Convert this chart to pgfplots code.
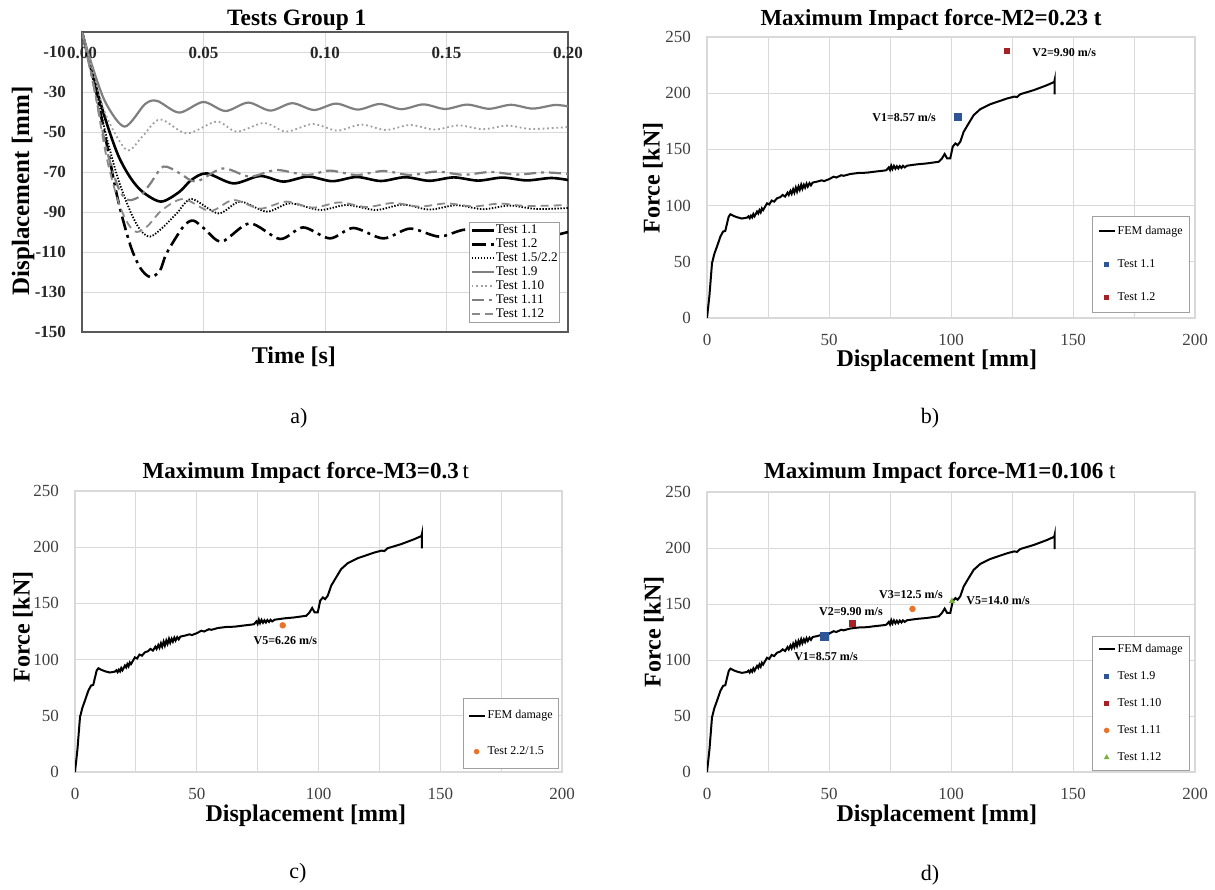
\documentclass[border=0pt]{standalone}
\usepackage{fontspec}
\setmainfont{Liberation Serif}
\usepackage{pgfplots}
\pgfplotsset{compat=1.18}

\definecolor{gridc}{HTML}{D9D9D9}
\definecolor{tickc}{HTML}{404040}
\definecolor{tblue}{HTML}{2E5597}
\definecolor{tred}{HTML}{A52126}
\definecolor{torange}{HTML}{E8732A}
\definecolor{tgreen}{HTML}{7AAE3A}
\definecolor{g1}{HTML}{7F7F7F}
\definecolor{g2}{HTML}{A0A0A0}
\definecolor{g3}{HTML}{8A8A8A}

\pgfplotstableread{
d f
0 0
1 20
2.05 48.8
3 57
4.1 63.6
5.5 72.5
6.6 76.9
7.5 77.5
8.2 84
8.9 90.2
9.6 92.3
10.9 90.8
12.5 89.5
14.3 88.5
16.4 89.3
17 90.5
17.5 88.8
18 91
18.5 89.5
19 92.5
19.5 90.5
20.5 94.7
21 93
21.5 96
22 94
22.5 97.5
23 96
24.6 102
25.5 101
26.5 104.5
27.5 103.5
28.7 106.5
30 107.5
31 109.5
32 108
33 111.5
33.5 109.5
34.2 113
34.7 110.5
35.3 114.5
35.8 111.5
36.4 116
36.9 112.5
37.5 117
38 114
38.6 118.5
39.1 115
39.7 118.5
40.2 116
40.8 119.5
41.3 117
42 120
42.6 118
43.3 120.5
45.1 121.3
47 122.5
48 121.8
50 123.5
51.9 125.7
53 125
55 127
56 126.5
58.7 128.1
62 129
65.6 129.3
68 130
70 130.5
72.4 131.1
73.5 131.5
74.5 134
75 131.8
75.5 135.5
76 132.5
76.6 135.3
77.2 132.8
77.8 135
78.4 133
79 135.2
79.7 133.5
80.3 135.4
81 134
82 135.5
86 136.7
90 137.5
95 139
96.3 142
97.4 145.9
98.4 142
99.7 142
100.7 152.4
101.8 155.3
102.7 153.8
103.8 156.8
105.2 165.7
107.2 173
109.3 180.5
112 185.8
116.1 190.2
123 195.3
126 197
127 196.5
128.4 199.1
133.9 202.7
139.3 207.1
142.3 210
142.5 212
142.5 199
}\femdata

\tikzset{annot/.style={font=\bfseries\fontsize{6}{7}\selectfont}}

\pgfplotsset{
  every axis title shift=0pt,
  forcebase/.style={
    scale only axis, width=244pt, height=140.5pt,
    xmin=0, xmax=200, ymin=0, ymax=250,
    xtick={0,50,100,150,200}, ytick={0,50,100,150,200,250},
    minor xtick={25,75,125,175},
    xmajorgrids, ymajorgrids, xminorgrids,
    major grid style={draw=gridc, line width=0.4pt},
    minor grid style={draw=gridc, line width=0.4pt},
    axis line style={draw=gridc, line width=0.6pt},
    major tick length=0pt, minor tick length=0pt,
    /pgf/number format/assume math mode=true,
    tick label style={font=\fontsize{8.5}{10}\selectfont, text=tickc},
    xticklabel style={anchor=center, yshift=-11pt},
    yticklabel style={anchor=east, xshift=-4.5pt},
    title style={font=\bfseries\fontsize{11.5}{13}\selectfont, anchor=center},
    xlabel style={font=\bfseries\fontsize{12}{14}\selectfont, anchor=center},
    ylabel style={font=\bfseries\fontsize{12}{14}\selectfont, anchor=center},
    legend cell align=left,
    legend image code/.code={\draw[##1] (0pt,0pt) -- (8pt,0pt);},
    legend style={draw=g2, fill=white, line width=0.5pt,
      font=\fontsize{6}{7}\selectfont, anchor=north east,
      nodes={inner sep=1pt, text height=4.5pt, text depth=1.5pt}},
  },
  femline/.style={black, line width=1pt},
  mkleg/.style={legend image code/.code={\draw[##1, mark size=1.1pt] plot coordinates {(4pt,0pt)};}},
}

\begin{document}
\begin{tikzpicture}
\useasboundingbox (0pt,0pt) rectangle (607.5pt,444.5pt);

%%%%%%%%%%%%%%%% a)
\begin{axis}[
  at={(41pt,278.5pt)}, anchor=south west,
  scale only axis, width=243pt, height=150pt,
  xmin=0, xmax=0.2, ymin=-150, ymax=0,
  xtick={0,0.05,0.1,0.15,0.2}, xticklabels={0.00,0.05,0.10,0.15,0.20},
  ytick={-150,-130,-110,-90,-70,-50,-30,-10},
  yticklabels={-150,-130,-110,-90,-70,-50,-30,-10},
  xticklabel pos=upper,
  xmajorgrids, ymajorgrids,
  major grid style={draw=gridc, line width=0.4pt},
  axis line style={draw=black!65, line width=1pt},
  major tick length=0pt,
  tick label style={font=\bfseries\fontsize{8.5}{10}\selectfont, text=black!85},
  xticklabel style={anchor=center, yshift=-10.5pt},
  yticklabel style={anchor=east, xshift=-4.5pt},
  title={Tests Group 1},
  title style={font=\bfseries\fontsize{11.7}{13}\selectfont, at={(0.442,1.04)}, anchor=center},
  xlabel={Time [s]},
  xlabel style={font=\bfseries\fontsize{12}{14}\selectfont, at={(axis description cs:0.436,-0.083)}, anchor=center},
  ylabel={Displacement [mm]},
  ylabel style={font=\bfseries\fontsize{12.5}{14}\selectfont, at={(axis description cs:-0.121,0.47)}, anchor=center},
  legend cell align=left,
  legend image code/.code={\draw[#1] (0pt,0pt) -- (11pt,0pt);},
  legend style={at={(0.984,0.367)}, anchor=north east, draw=g2, fill=white,
    line width=0.5pt, font=\fontsize{6.6}{7}\selectfont, inner sep=0.5pt, row sep=0pt,
    nodes={inner sep=0.5pt, text height=4.5pt, text depth=1.5pt}},
]
\addplot[black, line width=1.3pt, smooth] coordinates {
(0,0) (0.005,-24) (0.01,-45) (0.015,-62) (0.02,-73) (0.025,-80) (0.0325,-84.8) (0.04,-80) (0.045,-74) (0.0513,-70.7) (0.0623,-75.7) (0.0733,-72) (0.0829,-74.8) (0.093,-72.3) (0.103,-74.6) (0.113,-72.5) (0.123,-74.5) (0.133,-72.6) (0.143,-74.4) (0.153,-72.7) (0.163,-74.3) (0.173,-72.8) (0.183,-74.2) (0.193,-73) (0.2,-74)};
\addlegendentry{Test 1.1}
\addplot[black, line width=1.3pt, smooth, dash pattern=on 7pt off 2.5pt on 1.5pt off 2.5pt] coordinates {
(0,0) (0.005,-25) (0.01,-55) (0.015,-85) (0.02,-107) (0.024,-118) (0.028,-122.5) (0.032,-119.5) (0.0348,-110.7) (0.0417,-97.3) (0.0458,-94.3) (0.0505,-98.5) (0.0575,-104.8) (0.069,-95.7) (0.0815,-103.5) (0.091,-97.7) (0.102,-103.2) (0.1117,-98) (0.124,-103.2) (0.135,-98.3) (0.147,-102.3) (0.158,-98.8) (0.17,-102) (0.181,-99) (0.193,-101.5) (0.2,-100)};
\addlegendentry{Test 1.2}
\addplot[black, line width=0.9pt, smooth, dash pattern=on 0.7pt off 0.8pt] coordinates {
(0,0) (0.005,-25) (0.01,-52) (0.015,-74) (0.02,-90) (0.024,-99) (0.028,-102.3) (0.033,-98) (0.039,-90.7) (0.0451,-83.5) (0.0561,-90.7) (0.065,-84.8) (0.076,-89.8) (0.0856,-85.7) (0.098,-89) (0.109,-86.5) (0.121,-89) (0.132,-86.3) (0.143,-88.8) (0.154,-86.6) (0.165,-88.6) (0.176,-86.8) (0.187,-88.5) (0.2,-88)};
\addlegendentry{Test 1.5/2.2}
\addplot[g1, line width=1.1pt, smooth] coordinates {
(0,0) (0.005,-20) (0.01,-36) (0.0176,-47.3) (0.026,-36) (0.031,-34.5) (0.040,-40.3) (0.0499,-35) (0.059,-39.5) (0.0684,-35.3) (0.0775,-39.3) (0.0865,-35.6) (0.0955,-39) (0.1045,-35.8) (0.1135,-38.8) (0.1225,-36) (0.1315,-38.6) (0.1405,-36.2) (0.1495,-38.5) (0.1585,-36.3) (0.1675,-38.4) (0.1765,-36.4) (0.1855,-38.3) (0.1945,-36.5) (0.2,-37.2)};
\addlegendentry{Test 1.9}
\addplot[g2, line width=0.9pt, smooth, dash pattern=on 0.9pt off 1.4pt] coordinates {
(0,0) (0.005,-22) (0.01,-42) (0.0184,-59) (0.025,-52) (0.0321,-43.7) (0.0431,-50.7) (0.0554,-44.8) (0.0637,-49.8) (0.075,-45.5) (0.084,-49.8) (0.095,-46) (0.105,-49.3) (0.115,-46.3) (0.125,-49) (0.135,-46.5) (0.145,-48.8) (0.155,-46.7) (0.165,-48.6) (0.175,-46.8) (0.185,-48.5) (0.2,-47.5)};
\addlegendentry{Test 1.10}
\addplot[g1, line width=1.1pt, smooth, dash pattern=on 6pt off 2.5pt on 1.5pt off 2.5pt] coordinates {
(0,0) (0.005,-28) (0.01,-58) (0.015,-78) (0.019,-84) (0.024,-82) (0.028,-76) (0.0335,-67.3) (0.0403,-70.7) (0.047,-74.8) (0.058,-68.2) (0.069,-72.3) (0.080,-69) (0.0925,-71.5) (0.102,-69.3) (0.113,-71.5) (0.124,-69.5) (0.135,-71.5) (0.146,-69.8) (0.157,-71.4) (0.168,-70) (0.179,-71.3) (0.19,-70.2) (0.2,-71)};
\addlegendentry{Test 1.11}
\addplot[g3, line width=0.9pt, smooth, dash pattern=on 4pt off 2.5pt] coordinates {
(0,0) (0.005,-28) (0.01,-62) (0.015,-85) (0.019,-96) (0.0225,-100) (0.027,-97) (0.033,-89) (0.0417,-83.5) (0.0527,-89.5) (0.0623,-84) (0.0733,-88.3) (0.084,-84.8) (0.095,-87.8) (0.106,-85.2) (0.117,-87.5) (0.128,-85.5) (0.139,-87.3) (0.15,-85.7) (0.161,-87.2) (0.172,-85.8) (0.183,-87) (0.2,-86.5)};
\addlegendentry{Test 1.12}
\end{axis}
\node[font=\fontsize{11}{13}\selectfont] at (149.5pt,235.5pt) {a)};

%%%%%%%%%%%%%%%% b)
\begin{axis}[forcebase,
  at={(353.5pt,285.5pt)}, anchor=south west,
  title={Maximum Impact force-M2=0.23 t},
  title style={at={(0.459,1.060)}},
  xlabel={Displacement [mm]},
  xlabel style={at={(axis description cs:0.471,-0.153)}},
  ylabel={Force [kN]},
  ylabel style={at={(axis description cs:-0.111,0.498)}},
  legend style={at={(0.99,0.363)}, inner xsep=2.5pt, inner ysep=3.5pt, row sep=8.5pt},
]
\addplot[femline] table[x=d, y=f] {\femdata};
\addlegendentry{FEM damage}
\addplot[only marks, mark=square*, mark size=1.8pt, draw=tblue, fill=tblue, mkleg] coordinates {(102.7,179)};
\addlegendentry{Test 1.1}
\addplot[only marks, mark=square*, mark size=1.3pt, draw=tred, fill=tred, mkleg] coordinates {(123,237.3)};
\addlegendentry{Test 1.2}
\node[annot, anchor=east] at (axis cs:96.7,178.4) {V1=8.57 m/s};
\node[annot, anchor=west] at (axis cs:130.5,236.5) {V2=9.90 m/s};
\end{axis}
\node[font=\fontsize{11}{13}\selectfont] at (465pt,235.5pt) {b)};

%%%%%%%%%%%%%%%% c)
\begin{axis}[forcebase,
  at={(37.5pt,58.5pt)}, anchor=south west, width=243.5pt,
  title={Maximum Impact force-M3=0.3{\mdseries\,t}},
  title style={at={(0.474,1.064)}},
  xlabel={Displacement [mm]},
  xlabel style={at={(axis description cs:0.474,-0.155)}},
  ylabel={Force [kN]},
  ylabel style={at={(axis description cs:-0.107,0.516)}},
  legend style={at={(0.994,0.263)}, inner xsep=2pt, inner ysep=4.5pt, row sep=10pt},
]
\addplot[femline] table[x=d, y=f] {\femdata};
\addlegendentry{FEM damage}
\addplot[only marks, mark=*, mark size=1.4pt, draw=torange, fill=torange, mkleg] coordinates {(85.3,130.5)};
\addlegendentry{Test 2.2/1.5}
\node[annot] at (axis cs:86.4,116.5) {V5=6.26 m/s};
\end{axis}
\node[font=\fontsize{11}{13}\selectfont] at (149pt,8pt) {c)};

%%%%%%%%%%%%%%%% d)
\begin{axis}[forcebase,
  at={(353.5pt,58.5pt)}, anchor=south west, height=140pt,
  title={Maximum Impact force-M1=0.106 {\mdseries t}},
  title style={at={(0.477,1.068)}},
  xlabel={Displacement [mm]},
  xlabel style={at={(axis description cs:0.471,-0.155)}},
  ylabel={Force [kN]},
  ylabel style={at={(axis description cs:-0.109,0.5)}},
  legend style={at={(0.99,0.486)}, inner xsep=2.5pt, inner ysep=2.5pt, row sep=5.5pt},
]
\addplot[femline] table[x=d, y=f] {\femdata};
\addlegendentry{FEM damage}
\addplot[only marks, mark=square*, mark size=1.8pt, draw=tblue, fill=tblue, mkleg] coordinates {(48.1,121)};
\addlegendentry{Test 1.9}
\addplot[only marks, mark=square*, mark size=1.5pt, draw=tred, fill=tred, mkleg] coordinates {(59.4,132.3)};
\addlegendentry{Test 1.10}
\addplot[only marks, mark=*, mark size=1.4pt, draw=torange, fill=torange, mkleg] coordinates {(84.2,145.6)};
\addlegendentry{Test 1.11}
\addplot[only marks, mark=triangle*, mark size=1.5pt, draw=tgreen, fill=tgreen, mkleg] coordinates {(100.4,152.4)};
\addlegendentry{Test 1.12}
\node[annot] at (axis cs:48.8,103.2) {V1=8.57 m/s};
\node[annot] at (axis cs:59,143) {V2=9.90 m/s};
\node[annot] at (axis cs:83.6,158.4) {V3=12.5 m/s};
\node[annot] at (axis cs:119.3,153) {V5=14.0 m/s};
\end{axis}
\node[font=\fontsize{11}{13}\selectfont] at (465pt,7pt) {d)};
\end{tikzpicture}
\end{document}
